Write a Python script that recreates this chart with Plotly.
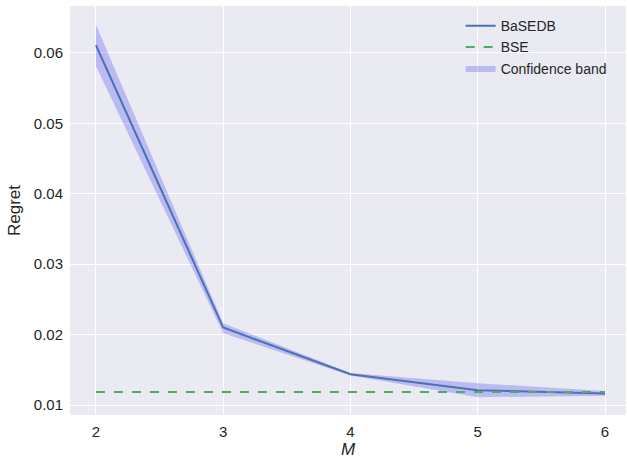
import plotly.graph_objects as go

M = [2, 3, 4, 5, 6]
basedb = [0.0611, 0.0210, 0.01436, 0.0121, 0.01165]
band_upper = [0.0640, 0.0216, 0.01455, 0.0131, 0.0120]
band_lower = [0.0581, 0.0202, 0.01418, 0.0111, 0.01132]
bse = [0.01185, 0.01185, 0.01185, 0.01185, 0.01185]

font = "Liberation Sans, Arial, sans-serif"
fig = go.Figure()

fig.add_trace(go.Scatter(
    x=M + M[::-1], y=band_upper + band_lower[::-1],
    fill="toself", fillcolor="rgba(0,0,255,0.2)", line=dict(width=0),
    mode="lines", name="Confidence band", legendrank=3, hoverinfo="skip"))
fig.add_trace(go.Scatter(
    x=M, y=basedb, mode="lines", name="BaSEDB",
    line=dict(color="#4c72b0", width=2), legendrank=1))
fig.add_trace(go.Scatter(
    x=M, y=bse, mode="lines", name="BSE",
    line=dict(color="#55a868", width=2, dash="dash"), legendrank=2))

axis_common = dict(
    showgrid=True, gridcolor="white", gridwidth=1.2, zeroline=False,
    showline=False, ticks="", automargin=False,
    tickfont=dict(family=font, size=15, color="#262626"),
)

fig.update_layout(
    width=627, height=459,
    paper_bgcolor="white", plot_bgcolor="#eaeaf2",
    margin=dict(l=70, r=1, t=6, b=44),
    showlegend=True,
    legend=dict(x=0.7026, y=0.99, xanchor="left", yanchor="top",
                bgcolor="rgba(0,0,0,0)", font=dict(family=font, size=14, color="#262626"),
                tracegroupgap=0, itemwidth=30),
    xaxis=dict(range=[1.796, 6.165], tickvals=[2, 3, 4, 5, 6],
               ticktext=["2", "3", "4", "5", "6"], ticklabelstandoff=6,
               title=dict(text="<i>M</i>", font=dict(family=font, size=17, color="#262626"), standoff=8),
               **axis_common),
    yaxis=dict(range=[0.00858, 0.06667], tickvals=[0.01, 0.02, 0.03, 0.04, 0.05, 0.06],
               ticktext=["0.01", "0.02", "0.03", "0.04", "0.05", "0.06"], ticklabelstandoff=6,
               title=dict(text="Regret", font=dict(family=font, size=17, color="#262626"), standoff=8),
               **axis_common),
)

fig.write_html("out.html", config={"displayModeBar": False},
               post_script="document.body.style.margin='0';")
